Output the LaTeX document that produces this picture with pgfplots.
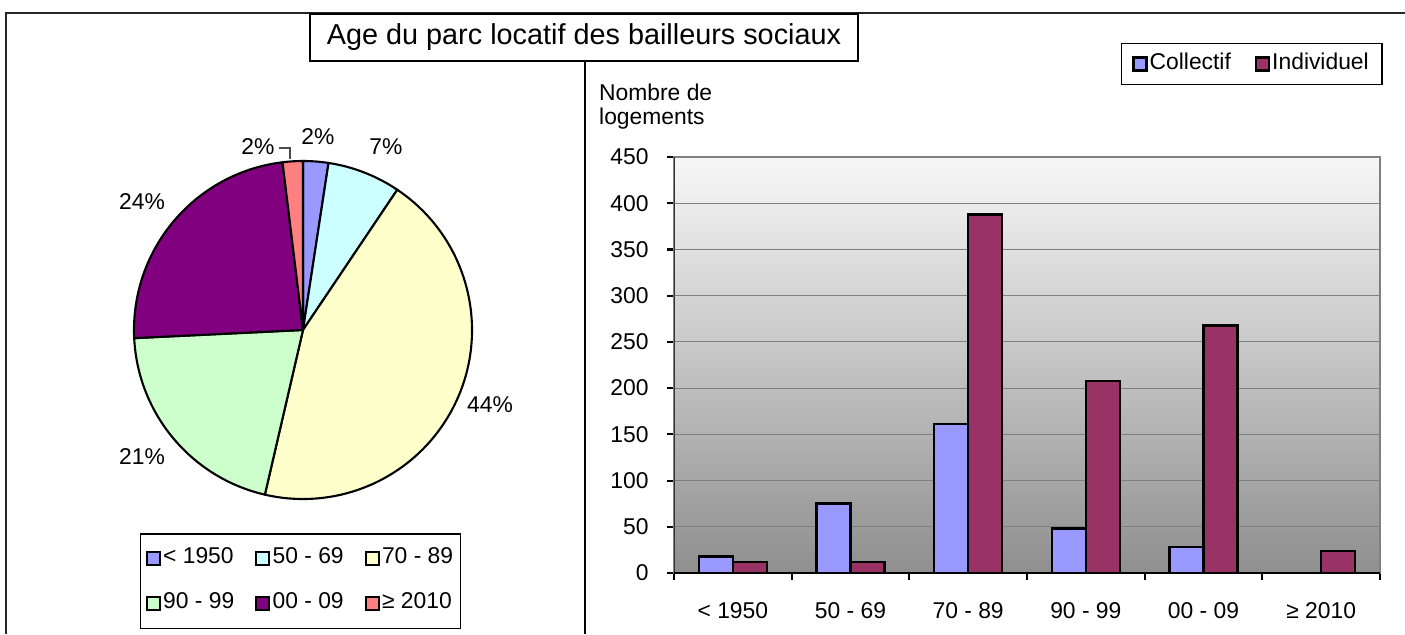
\documentclass[border=0pt]{standalone}
\usepackage{pgfplots}
\pgfplotsset{compat=1.18}
\usepackage{pgfplotstable}
\usepackage{fontspec}
\setmainfont{Liberation Sans}

\definecolor{pieA}{HTML}{9999FF}
\definecolor{pieB}{HTML}{CCFFFF}
\definecolor{pieC}{HTML}{FFFFCC}
\definecolor{pieD}{HTML}{CCFFCC}
\definecolor{pieE}{HTML}{800080}
\definecolor{pieF}{HTML}{FF8080}
\definecolor{indiv}{HTML}{993366}

% logements par periode : collectif / individuel
\pgfplotstableread{
x coll indiv
0 18 12
1 75 12
2 161 388
3 48 208
4 28 268
5 0 24
}\bardata

\pgfplotsset{
  sqlegend/.style={legend image code/.code={
    \draw[##1,draw=black,line width=0.6pt] (0cm,-0.065cm) rectangle (0.13cm,0.065cm);}},
}

\begin{document}
\begin{tikzpicture}[font=\fontsize{6.5}{7.8}\selectfont]
\path[use as bounding box] (0,0) rectangle (14.05,6.34);

% cadre
\draw[black!85, line width=0.6pt] (0.06,0) -- (0.06,6.21) -- (14.05,6.21);
\draw[black, line width=0.45pt] (5.85,0) -- (5.85,5.73);

% total pour le camembert
\xdef\pietotal{0}
\foreach \i in {0,...,5}{
  \pgfplotstablegetelem{\i}{coll}\of\bardata \let\cval\pgfplotsretval
  \pgfplotstablegetelem{\i}{indiv}\of\bardata
  \pgfmathsetmacro\t{\pietotal+\cval+\pgfplotsretval}
  \xdef\pietotal{\t}
}

% camembert
\begin{axis}[
  at={(3.03cm,3.04cm)}, anchor=center,
  x=1cm, y=1cm,
  xmin=-2, xmax=2, ymin=-2, ymax=2,
  hide axis, clip=false,
  legend columns=3,
  legend cell align=left,
  legend style={at={(0.494,-0.1275)}, anchor=center, draw=black, line width=0.4pt,
    inner xsep=1.5pt, inner ysep=1.8pt, row sep=2.5pt,
    nodes={inner xsep=0.6pt, inner ysep=2.17pt},
    /tikz/every even column/.append style={column sep=0.19cm}},
]
\xdef\cum{0}
\foreach \i/\col in {0/pieA,1/pieB,2/pieC,3/pieD,4/pieE,5/pieF}{
  \pgfplotstablegetelem{\i}{coll}\of\bardata \let\cval\pgfplotsretval
  \pgfplotstablegetelem{\i}{indiv}\of\bardata
  \pgfmathsetmacro\a{90-(\cum/\pietotal)*360}
  \pgfmathsetmacro\newcum{\cum+\cval+\pgfplotsretval}
  \pgfmathsetmacro\b{90-(\newcum/\pietotal)*360}
  \pgfmathsetmacro\xa{1.69*cos(\a)}
  \pgfmathsetmacro\ya{1.69*sin(\a)}
  \edef\tmp{\noexpand\filldraw[fill=\col,draw=black,line width=0.6pt,line join=round]
    (axis cs:0,0) -- (axis cs:\xa,\ya) arc[start angle=\a,end angle=\b,radius=1.69cm] -- cycle;}
  \tmp
  \xdef\cum{\newcum}
}
\node at (axis cs:0.15,1.93) {2\%};
\node at (axis cs:0.83,1.83) {7\%};
\node at (axis cs:1.87,-0.75) {44\%};
\node at (axis cs:-1.61,-1.27) {21\%};
\node at (axis cs:-1.61,1.28) {24\%};
\node at (axis cs:-0.45,1.83) {2\%};
\draw[black!70, line width=0.3pt] (axis cs:-0.24,1.82) -- (axis cs:-0.13,1.82) -- (axis cs:-0.13,1.71);
\addlegendimage{sqlegend, fill=pieA}\addlegendentry{< 1950}
\addlegendimage{sqlegend, fill=pieB}\addlegendentry{50 - 69}
\addlegendimage{sqlegend, fill=pieC}\addlegendentry{70 - 89}
\addlegendimage{sqlegend, fill=pieD}\addlegendentry{90 - 99}
\addlegendimage{sqlegend, fill=pieE}\addlegendentry{00 - 09}
\addlegendimage{sqlegend, fill=pieF}\addlegendentry{≥ 2010}
\end{axis}

% histogramme
\begin{axis}[
  at={(6.74cm,0.61cm)}, anchor=south west,
  scale only axis, width=7.06cm, height=4.16cm,
  ybar=0pt, bar width=0.34cm,
  xmin=-0.5, xmax=5.5, ymin=0, ymax=450,
  xtick={-0.5,0.5,1.5,2.5,3.5,4.5,5.5},
  xticklabels={< 1950, 50 - 69, 70 - 89, 90 - 99, 00 - 09, ≥ 2010, {}},
  xticklabel style={xshift=0.5883cm, yshift=-3pt},
  ytick={0,50,...,450},
  yticklabel style={xshift=-1.7pt},
  tick align=outside, major tick length=0.07cm,
  xtick pos=bottom, ytick pos=left,
  tick style={black, line width=0.6pt},
  ymajorgrids, major grid style={black!50, line width=0.3pt},
  axis line style={draw=black!50, line width=0.6pt},
  axis background/.style={shade, top color=white!97!black, bottom color=black!44},
  /pgf/number format/assume math mode=true,
  legend columns=2,
  legend cell align=left,
  legend style={at={(1.004,1.274)}, anchor=north east, draw=black, line width=0.4pt,
    inner xsep=3.2pt, inner ysep=0.5pt,
    nodes={inner xsep=0.6pt, inner ysep=2.17pt},
    /tikz/every even column/.append style={column sep=0.22cm}},
]
\addplot[fill=pieA, draw=black, line width=0.7pt, sqlegend] table[x=x, y=coll] {\bardata};
\addlegendentry{Collectif}
\addplot[fill=indiv, draw=black, line width=0.7pt, sqlegend] table[x=x, y=indiv] {\bardata};
\addlegendentry{Individuel}
\draw[black!80, line width=0.6pt] (rel axis cs:0,0) -- (rel axis cs:0,1);
\draw[black, line width=0.6pt] (rel axis cs:0,0) -- (rel axis cs:1,0);
\end{axis}

% titre et libelle
\node[draw=black, line width=0.7pt, fill=white, minimum width=5.48cm, minimum height=0.47cm,
  inner sep=0, font=\fontsize{8.2}{9}\selectfont] at (5.84,5.965)
  {Age du parc locatif des bailleurs sociaux};
\node[anchor=north west, align=left, inner sep=0, font=\fontsize{6.5}{6.83}\selectfont]
  at (5.985,5.51) {Nombre de\\logements};
\end{tikzpicture}
\end{document}
